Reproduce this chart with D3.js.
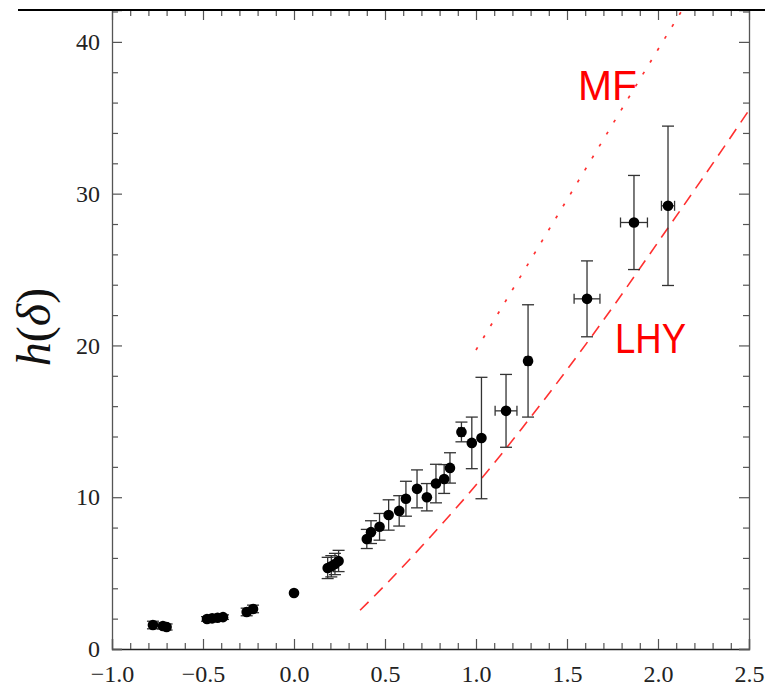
<!DOCTYPE html>
<html>
<head>
<meta charset="utf-8">
<script src="https://cdn.jsdelivr.net/npm/d3@7"></script>
<style>
  html, body { margin: 0; padding: 0; background: #fff; }
  svg { display: block; }
  .tick text { font-family: "Liberation Serif", "DejaVu Serif", serif; }
</style>
</head>
<body>
<svg id="chart" width="765" height="686"></svg>
<script>
// Measured h(δ) points with error bars
const deltaVals = [-0.775, -0.72, -0.70, -0.478, -0.45, -0.42, -0.39, -0.26, -0.225, 0.0,
  0.185, 0.205, 0.225, 0.245, 0.40, 0.423, 0.47, 0.52, 0.578, 0.615, 0.676, 0.73, 0.78,
  0.825, 0.857, 0.92, 0.977, 1.03, 1.165, 1.286, 1.61, 1.868, 2.055];
const hVals = [1.58, 1.52, 1.45, 1.98, 2.02, 2.06, 2.10, 2.44, 2.64, 3.69,
  5.34, 5.45, 5.60, 5.80, 7.25, 7.70, 8.05, 8.83, 9.10, 9.90, 10.55, 10.00, 10.90,
  11.20, 11.93, 14.30, 13.58, 13.90, 15.69, 18.98, 23.07, 28.10, 29.20];
const hErr = [0.25, 0.2, 0.2, 0.15, 0.15, 0.15, 0.15, 0.25, 0.25, 0.0,
  0.7, 0.7, 0.7, 0.7, 0.63, 0.75, 0.88, 1.0, 1.0, 1.15, 1.25, 0.9, 1.27,
  0.95, 1.0, 0.65, 1.7, 4.0, 2.4, 3.7, 2.5, 3.1, 5.25];
const deltaErr = [0, 0, 0, 0, 0, 0, 0, 0, 0, 0,
  0, 0, 0, 0, 0, 0, 0, 0, 0, 0, 0, 0, 0,
  0, 0, 0.015, 0, 0, 0.06, 0.015, 0.071, 0.074, 0.036];

// Theory curves
const mfDelta = [1.0, 1.5, 2.0, 2.2];
const mfH = [19.7, 29.6, 39.5, 43.4];
const lhyDelta = [0.363, 0.5, 0.75, 1.0, 1.25, 1.5, 1.75, 2.0, 2.25, 2.5];
const lhyH = [2.55, 4.2, 7.4, 10.8, 14.5, 18.4, 22.5, 26.8, 31.1, 35.5];

// Axis ticks
const xMajorTicks = [-1.0, -0.5, 0.0, 0.5, 1.0, 1.5, 2.0, 2.5];
const yMajorTicks = [0, 10, 20, 30, 40];

const svg = d3.select("#chart");
const plotLeft = 112, plotRight = 749, plotTop = 10, plotBottom = 649;

const x = d3.scaleLinear().domain([-1, 2.5]).range([plotLeft, plotRight]);
const y = d3.scaleLinear().domain([0, 42.1]).range([plotBottom, plotTop]);

const xMinor = d3.range(-10, 26).map(d => d / 10).filter(d => !xMajorTicks.some(t => Math.abs(t - d) < 1e-9));
const yMinor = d3.range(0, 43, 2).filter(d => d % 10 !== 0);

svg.append("defs").append("clipPath").attr("id", "plotClip")
  .append("rect").attr("x", plotLeft).attr("y", plotTop)
  .attr("width", plotRight - plotLeft).attr("height", plotBottom - plotTop);

const axisColor = "#555";
const labelFont = "'Liberation Serif', 'DejaVu Serif', serif";

function styleAxis(g) {
  g.attr("font-family", labelFont);
  g.selectAll(".domain").attr("stroke", axisColor).attr("stroke-width", 1.3);
  g.selectAll(".tick line").attr("stroke", axisColor).attr("stroke-width", 1.2);
  g.selectAll("text").style("font-family", labelFont).attr("font-size", 24).attr("fill", "#222");
}

// Bottom axis
const gB = svg.append("g").attr("transform", `translate(0,${plotBottom})`)
  .call(d3.axisBottom(x).tickValues(xMajorTicks).tickSize(-10).tickPadding(16).tickFormat(d3.format(".1f")));
styleAxis(gB);
gB.select(".domain").attr("stroke", "#222");
const gBm = svg.append("g").attr("transform", `translate(0,${plotBottom})`)
  .call(d3.axisBottom(x).tickValues(xMinor).tickSize(-6).tickFormat(""));
styleAxis(gBm); gBm.select(".domain").remove();

// Top axis
const gT = svg.append("g").attr("transform", `translate(0,${plotTop})`)
  .call(d3.axisTop(x).tickValues(xMajorTicks).tickSize(-10).tickFormat(""));
styleAxis(gT); gT.select(".domain").remove();
const gTm = svg.append("g").attr("transform", `translate(0,${plotTop})`)
  .call(d3.axisTop(x).tickValues(xMinor).tickSize(-6).tickFormat(""));
styleAxis(gTm); gTm.select(".domain").remove();

// Left axis
const gL = svg.append("g").attr("transform", `translate(${plotLeft},0)`)
  .call(d3.axisLeft(y).tickValues(yMajorTicks).tickSize(-10).tickPadding(12).tickFormat(d3.format("d")));
styleAxis(gL);
const gLm = svg.append("g").attr("transform", `translate(${plotLeft},0)`)
  .call(d3.axisLeft(y).tickValues(yMinor).tickSize(-6).tickFormat(""));
styleAxis(gLm); gLm.select(".domain").remove();

// Right axis
const gR = svg.append("g").attr("transform", `translate(${plotRight},0)`)
  .call(d3.axisRight(y).tickValues(yMajorTicks).tickSize(-10).tickFormat(""));
styleAxis(gR);
const gRm = svg.append("g").attr("transform", `translate(${plotRight},0)`)
  .call(d3.axisRight(y).tickValues(yMinor).tickSize(-6).tickFormat(""));
styleAxis(gRm); gRm.select(".domain").remove();

// Top rule running across the page
svg.append("line").attr("x1", 18).attr("x2", 765).attr("y1", plotTop).attr("y2", plotTop)
  .attr("stroke", "#000").attr("stroke-width", 2);

// Y-axis title h(δ)
const yTitle = svg.append("text")
  .attr("transform", "translate(50,327) rotate(-90)")
  .attr("text-anchor", "middle")
  .style("font-family", labelFont)
  .attr("font-size", 48)
  .attr("fill", "#111");
yTitle.append("tspan").attr("font-style", "italic").text("h");
yTitle.append("tspan").text("(");
yTitle.append("tspan").attr("font-style", "italic").text("δ");
yTitle.append("tspan").text(")");

// Theory curves
const curves = svg.append("g").attr("clip-path", "url(#plotClip)");
const line = d3.line().x(d => x(d[0])).y(d => y(d[1])).curve(d3.curveMonotoneX);
curves.append("path")
  .datum(d3.zip(mfDelta, mfH))
  .attr("d", line)
  .attr("fill", "none").attr("stroke", "#ff3030").attr("stroke-width", 1.7)
  .attr("stroke-dasharray", "3,11");
curves.append("path")
  .datum(d3.zip(lhyDelta, lhyH))
  .attr("d", line)
  .attr("fill", "none").attr("stroke", "#ff3030").attr("stroke-width", 1.6)
  .attr("stroke-dasharray", "12,8");

// Curve labels
const sans = "'Liberation Sans', Arial, sans-serif";
svg.append("text").attr("x", 578).attr("y", 100).style("font-family", sans)
  .attr("font-size", 42).attr("fill", "#ff0000")
  .attr("textLength", 59).attr("lengthAdjust", "spacingAndGlyphs").text("MF");
svg.append("text").attr("x", 615).attr("y", 353).style("font-family", sans)
  .attr("font-size", 42).attr("fill", "#ff0000")
  .attr("textLength", 71).attr("lengthAdjust", "spacingAndGlyphs").text("LHY");

// Data points with error bars
const pts = deltaVals.map((d, i) => ({ d, h: hVals[i], eh: hErr[i], ed: deltaErr[i] }));
const errG = svg.append("g").attr("stroke", "#333").attr("stroke-width", 1.3).attr("fill", "none");
const cap = 6;
pts.forEach(p => {
  if (p.eh > 0) {
    const cx = x(p.d), y1 = y(p.h + p.eh), y2 = y(p.h - p.eh);
    errG.append("line").attr("x1", cx).attr("x2", cx).attr("y1", y1).attr("y2", y2);
    errG.append("line").attr("x1", cx - cap).attr("x2", cx + cap).attr("y1", y1).attr("y2", y1);
    errG.append("line").attr("x1", cx - cap).attr("x2", cx + cap).attr("y1", y2).attr("y2", y2);
  }
  if (p.ed > 0) {
    const cy = y(p.h), x1 = x(p.d - p.ed), x2 = x(p.d + p.ed);
    errG.append("line").attr("x1", x1).attr("x2", x2).attr("y1", cy).attr("y2", cy);
    errG.append("line").attr("x1", x1).attr("x2", x1).attr("y1", cy - 5).attr("y2", cy + 5);
    errG.append("line").attr("x1", x2).attr("x2", x2).attr("y1", cy - 5).attr("y2", cy + 5);
  }
});
svg.append("g").selectAll("circle").data(pts).join("circle")
  .attr("cx", p => x(p.d)).attr("cy", p => y(p.h)).attr("r", 5.3).attr("fill", "#000");
</script>
</body>
</html>
